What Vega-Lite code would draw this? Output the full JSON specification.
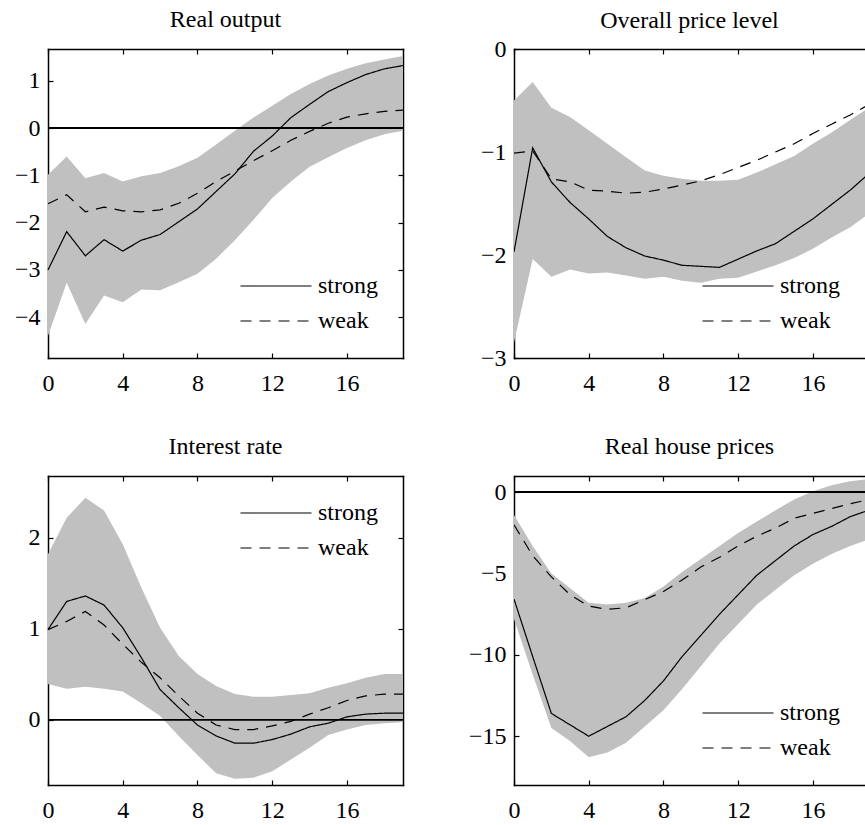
{
  "$schema": "https://vega.github.io/schema/vega-lite/v6.json",
  "background": "white",
  "padding": {"left": 14, "top": 8, "right": 0, "bottom": 5},
  "columns": 2,
  "spacing": {"row": 118, "column": 111},
  "bounds": "flush",
  "datasets": {
    "out": [
      {"t": 0, "strong": -3.00, "weak": -1.60, "lo": -4.39, "hi": -0.99},
      {"t": 1, "strong": -2.19, "weak": -1.41, "lo": -3.27, "hi": -0.60},
      {"t": 2, "strong": -2.70, "weak": -1.77, "lo": -4.14, "hi": -1.06},
      {"t": 3, "strong": -2.36, "weak": -1.67, "lo": -3.54, "hi": -0.95},
      {"t": 4, "strong": -2.60, "weak": -1.75, "lo": -3.68, "hi": -1.13},
      {"t": 5, "strong": -2.37, "weak": -1.77, "lo": -3.41, "hi": -1.02},
      {"t": 6, "strong": -2.25, "weak": -1.73, "lo": -3.43, "hi": -0.95},
      {"t": 7, "strong": -1.98, "weak": -1.59, "lo": -3.26, "hi": -0.81},
      {"t": 8, "strong": -1.71, "weak": -1.38, "lo": -3.08, "hi": -0.63},
      {"t": 9, "strong": -1.34, "weak": -1.13, "lo": -2.76, "hi": -0.35},
      {"t": 10, "strong": -0.97, "weak": -0.91, "lo": -2.37, "hi": -0.06},
      {"t": 11, "strong": -0.49, "weak": -0.69, "lo": -1.94, "hi": 0.22},
      {"t": 12, "strong": -0.17, "weak": -0.48, "lo": -1.48, "hi": 0.47},
      {"t": 13, "strong": 0.22, "weak": -0.26, "lo": -1.13, "hi": 0.72},
      {"t": 14, "strong": 0.50, "weak": -0.07, "lo": -0.82, "hi": 0.93},
      {"t": 15, "strong": 0.77, "weak": 0.10, "lo": -0.62, "hi": 1.11},
      {"t": 16, "strong": 0.96, "weak": 0.23, "lo": -0.42, "hi": 1.25},
      {"t": 17, "strong": 1.13, "weak": 0.30, "lo": -0.26, "hi": 1.37},
      {"t": 18, "strong": 1.25, "weak": 0.35, "lo": -0.13, "hi": 1.45},
      {"t": 19, "strong": 1.32, "weak": 0.38, "lo": -0.06, "hi": 1.52}
    ],
    "price": [
      {"t": 0, "strong": -1.97, "weak": -1.01, "lo": -2.85, "hi": -0.50},
      {"t": 1, "strong": -0.96, "weak": -0.99, "lo": -2.04, "hi": -0.32},
      {"t": 2, "strong": -1.29, "weak": -1.26, "lo": -2.21, "hi": -0.57},
      {"t": 3, "strong": -1.49, "weak": -1.29, "lo": -2.14, "hi": -0.66},
      {"t": 4, "strong": -1.65, "weak": -1.37, "lo": -2.18, "hi": -0.79},
      {"t": 5, "strong": -1.82, "weak": -1.38, "lo": -2.17, "hi": -0.92},
      {"t": 6, "strong": -1.93, "weak": -1.40, "lo": -2.20, "hi": -1.05},
      {"t": 7, "strong": -2.01, "weak": -1.39, "lo": -2.23, "hi": -1.18},
      {"t": 8, "strong": -2.05, "weak": -1.36, "lo": -2.21, "hi": -1.23},
      {"t": 9, "strong": -2.10, "weak": -1.32, "lo": -2.25, "hi": -1.26},
      {"t": 10, "strong": -2.11, "weak": -1.28, "lo": -2.27, "hi": -1.28},
      {"t": 11, "strong": -2.12, "weak": -1.22, "lo": -2.23, "hi": -1.28},
      {"t": 12, "strong": -2.04, "weak": -1.15, "lo": -2.22, "hi": -1.27},
      {"t": 13, "strong": -1.96, "weak": -1.08, "lo": -2.16, "hi": -1.20},
      {"t": 14, "strong": -1.89, "weak": -1.00, "lo": -2.10, "hi": -1.12},
      {"t": 15, "strong": -1.77, "weak": -0.92, "lo": -2.03, "hi": -1.04},
      {"t": 16, "strong": -1.65, "weak": -0.82, "lo": -1.94, "hi": -0.92},
      {"t": 17, "strong": -1.51, "weak": -0.73, "lo": -1.83, "hi": -0.81},
      {"t": 18, "strong": -1.37, "weak": -0.64, "lo": -1.73, "hi": -0.69},
      {"t": 19, "strong": -1.21, "weak": -0.54, "lo": -1.60, "hi": -0.57}
    ],
    "rate": [
      {"t": 0, "strong": 0.99, "weak": 0.99, "lo": 0.39, "hi": 1.82},
      {"t": 1, "strong": 1.30, "weak": 1.08, "lo": 0.34, "hi": 2.22},
      {"t": 2, "strong": 1.36, "weak": 1.19, "lo": 0.36, "hi": 2.44},
      {"t": 3, "strong": 1.26, "weak": 1.04, "lo": 0.34, "hi": 2.30},
      {"t": 4, "strong": 1.01, "weak": 0.83, "lo": 0.31, "hi": 1.93},
      {"t": 5, "strong": 0.68, "weak": 0.63, "lo": 0.18, "hi": 1.45},
      {"t": 6, "strong": 0.33, "weak": 0.46, "lo": 0.04, "hi": 1.01},
      {"t": 7, "strong": 0.13, "weak": 0.26, "lo": -0.18, "hi": 0.70},
      {"t": 8, "strong": -0.06, "weak": 0.07, "lo": -0.39, "hi": 0.50},
      {"t": 9, "strong": -0.18, "weak": -0.06, "lo": -0.59, "hi": 0.37},
      {"t": 10, "strong": -0.26, "weak": -0.11, "lo": -0.65, "hi": 0.28},
      {"t": 11, "strong": -0.26, "weak": -0.11, "lo": -0.64, "hi": 0.25},
      {"t": 12, "strong": -0.22, "weak": -0.07, "lo": -0.57, "hi": 0.25},
      {"t": 13, "strong": -0.16, "weak": -0.02, "lo": -0.44, "hi": 0.27},
      {"t": 14, "strong": -0.08, "weak": 0.06, "lo": -0.31, "hi": 0.29},
      {"t": 15, "strong": -0.04, "weak": 0.13, "lo": -0.17, "hi": 0.35},
      {"t": 16, "strong": 0.03, "weak": 0.21, "lo": -0.11, "hi": 0.40},
      {"t": 17, "strong": 0.06, "weak": 0.26, "lo": -0.06, "hi": 0.46},
      {"t": 18, "strong": 0.07, "weak": 0.28, "lo": -0.04, "hi": 0.50},
      {"t": 19, "strong": 0.07, "weak": 0.28, "lo": -0.03, "hi": 0.50}
    ],
    "house": [
      {"t": 0, "strong": -6.57, "weak": -2.0, "lo": -7.8, "hi": -1.4},
      {"t": 1, "strong": -10.1, "weak": -3.9, "lo": -11.2, "hi": -3.3},
      {"t": 2, "strong": -13.6, "weak": -5.2, "lo": -14.5, "hi": -5.0},
      {"t": 3, "strong": -14.3, "weak": -6.3, "lo": -15.3, "hi": -5.9},
      {"t": 4, "strong": -15.0, "weak": -7.0, "lo": -16.3, "hi": -6.8},
      {"t": 5, "strong": -14.4, "weak": -7.2, "lo": -16.0, "hi": -6.9},
      {"t": 6, "strong": -13.8, "weak": -7.1, "lo": -15.4, "hi": -6.8},
      {"t": 7, "strong": -12.8, "weak": -6.6, "lo": -14.4, "hi": -6.5},
      {"t": 8, "strong": -11.6, "weak": -6.1, "lo": -13.4, "hi": -5.8},
      {"t": 9, "strong": -10.1, "weak": -5.4, "lo": -12.1, "hi": -4.9},
      {"t": 10, "strong": -8.8, "weak": -4.6, "lo": -10.7, "hi": -4.1},
      {"t": 11, "strong": -7.5, "weak": -4.0, "lo": -9.3, "hi": -3.3},
      {"t": 12, "strong": -6.3, "weak": -3.3, "lo": -8.1, "hi": -2.5},
      {"t": 13, "strong": -5.1, "weak": -2.7, "lo": -6.9, "hi": -1.8},
      {"t": 14, "strong": -4.2, "weak": -2.2, "lo": -6.0, "hi": -1.1},
      {"t": 15, "strong": -3.3, "weak": -1.6, "lo": -5.1, "hi": -0.45},
      {"t": 16, "strong": -2.6, "weak": -1.3, "lo": -4.4, "hi": 0.06},
      {"t": 17, "strong": -2.1, "weak": -1.0, "lo": -3.8, "hi": 0.43},
      {"t": 18, "strong": -1.5, "weak": -0.7, "lo": -3.3, "hi": 0.67},
      {"t": 19, "strong": -1.1, "weak": -0.45, "lo": -2.9, "hi": 0.82}
    ]
  },
  "concat": [
    {
      "title": "Real output",
      "width": 355, "height": 309,
      "data": {"name": "out"},
      "resolve": {"axis": {"x": "independent", "y": "independent"}},
      "layer": [
        {"mark": {"type": "area", "color": "#c0c0c0"},
         "encoding": {
           "x": {"field": "t", "type": "quantitative", "scale": {"domain": [0, 19], "nice": false, "zero": false}, "axis": {"orient": "bottom", "values": [0, 4, 8, 12, 16], "title": null}},
           "y": {"field": "lo", "type": "quantitative", "scale": {"domain": [-4.86, 1.67], "nice": false, "zero": false}, "axis": {"orient": "left", "values": [-4, -3, -2, -1, 0, 1], "title": null}},
           "y2": {"field": "hi"}}},
        {"mark": {"type": "rule", "color": "black", "strokeWidth": 1},
         "encoding": {"y": {"datum": 0, "type": "quantitative", "axis": null}}},
        {"transform": [{"fold": ["strong", "weak"], "as": ["series", "value"]}],
         "mark": {"type": "line", "color": "black", "strokeWidth": 1.2},
         "encoding": {
           "x": {"field": "t", "type": "quantitative", "axis": null},
           "y": {"field": "value", "type": "quantitative", "axis": null},
           "strokeDash": {"field": "series", "type": "nominal", "scale": {"domain": ["strong", "weak"], "range": [[1, 0], [11, 8]]}, "legend": {"orient": "bottom-right"}}}},
        {"mark": {"type": "point", "opacity": 0},
         "encoding": {
           "x": {"field": "t", "type": "quantitative", "axis": {"orient": "top", "values": [0, 4, 8, 12, 16], "labels": false, "title": null}},
           "y": {"field": "hi", "type": "quantitative", "axis": {"orient": "right", "values": [-4, -3, -2, -1, 0, 1], "labels": false, "title": null}}}}
      ]
    },
    {
      "title": {"text": "Overall price level", "offset": 4},
      "width": 351, "height": 309,
      "data": {"name": "price"},
      "resolve": {"axis": {"x": "independent", "y": "independent"}},
      "layer": [
        {"mark": {"type": "area", "color": "#c0c0c0", "clip": true},
         "encoding": {
           "x": {"field": "t", "type": "quantitative", "scale": {"domain": [0, 18.79], "nice": false, "zero": false}, "axis": {"orient": "bottom", "values": [0, 4, 8, 12, 16], "title": null}},
           "y": {"field": "lo", "type": "quantitative", "scale": {"domain": [-3, 0], "nice": false, "zero": false}, "axis": {"orient": "left", "values": [-3, -2, -1, 0], "title": null}},
           "y2": {"field": "hi"}}},
        {"transform": [{"fold": ["strong", "weak"], "as": ["series", "value"]}],
         "mark": {"type": "line", "color": "black", "strokeWidth": 1.2, "clip": true},
         "encoding": {
           "x": {"field": "t", "type": "quantitative", "axis": null},
           "y": {"field": "value", "type": "quantitative", "axis": null},
           "strokeDash": {"field": "series", "type": "nominal", "scale": {"domain": ["strong", "weak"], "range": [[1, 0], [11, 8]]}, "legend": {"orient": "bottom-right"}}}},
        {"mark": {"type": "point", "opacity": 0, "clip": true},
         "encoding": {
           "x": {"field": "t", "type": "quantitative", "axis": {"orient": "top", "values": [0, 4, 8, 12, 16], "labels": false, "title": null}},
           "y": {"field": "hi", "type": "quantitative", "axis": null}}}
      ]
    },
    {
      "title": "Interest rate",
      "width": 355, "height": 309,
      "data": {"name": "rate"},
      "resolve": {"axis": {"x": "independent", "y": "independent"}},
      "layer": [
        {"mark": {"type": "area", "color": "#c0c0c0"},
         "encoding": {
           "x": {"field": "t", "type": "quantitative", "scale": {"domain": [0, 19], "nice": false, "zero": false}, "axis": {"orient": "bottom", "values": [0, 4, 8, 12, 16], "title": null}},
           "y": {"field": "lo", "type": "quantitative", "scale": {"domain": [-0.72, 2.68], "nice": false, "zero": false}, "axis": {"orient": "left", "values": [0, 1, 2], "title": null}},
           "y2": {"field": "hi"}}},
        {"mark": {"type": "rule", "color": "black", "strokeWidth": 1},
         "encoding": {"y": {"datum": 0, "type": "quantitative", "axis": null}}},
        {"transform": [{"fold": ["strong", "weak"], "as": ["series", "value"]}],
         "mark": {"type": "line", "color": "black", "strokeWidth": 1.2},
         "encoding": {
           "x": {"field": "t", "type": "quantitative", "axis": null},
           "y": {"field": "value", "type": "quantitative", "axis": null},
           "strokeDash": {"field": "series", "type": "nominal", "scale": {"domain": ["strong", "weak"], "range": [[1, 0], [11, 8]]}, "legend": {"orient": "top-right"}}}},
        {"mark": {"type": "point", "opacity": 0},
         "encoding": {
           "x": {"field": "t", "type": "quantitative", "axis": {"orient": "top", "values": [0, 4, 8, 12, 16], "labels": false, "title": null}},
           "y": {"field": "hi", "type": "quantitative", "axis": {"orient": "right", "values": [0, 1, 2], "labels": false, "title": null}}}}
      ]
    },
    {
      "title": "Real house prices",
      "width": 351, "height": 309,
      "data": {"name": "house"},
      "resolve": {"axis": {"x": "independent", "y": "independent"}},
      "layer": [
        {"mark": {"type": "area", "color": "#c0c0c0", "clip": true},
         "encoding": {
           "x": {"field": "t", "type": "quantitative", "scale": {"domain": [0, 18.79], "nice": false, "zero": false}, "axis": {"orient": "bottom", "values": [0, 4, 8, 12, 16], "title": null}},
           "y": {"field": "lo", "type": "quantitative", "scale": {"domain": [-18, 1], "nice": false, "zero": false}, "axis": {"orient": "left", "values": [-15, -10, -5, 0], "title": null}},
           "y2": {"field": "hi"}}},
        {"mark": {"type": "rule", "color": "black", "strokeWidth": 1},
         "encoding": {"y": {"datum": 0, "type": "quantitative", "axis": null}}},
        {"transform": [{"fold": ["strong", "weak"], "as": ["series", "value"]}],
         "mark": {"type": "line", "color": "black", "strokeWidth": 1.2, "clip": true},
         "encoding": {
           "x": {"field": "t", "type": "quantitative", "axis": null},
           "y": {"field": "value", "type": "quantitative", "axis": null},
           "strokeDash": {"field": "series", "type": "nominal", "scale": {"domain": ["strong", "weak"], "range": [[1, 0], [11, 8]]}, "legend": {"orient": "bottom-right"}}}},
        {"mark": {"type": "point", "opacity": 0, "clip": true},
         "encoding": {
           "x": {"field": "t", "type": "quantitative", "axis": {"orient": "top", "values": [0, 4, 8, 12, 16], "labels": false, "title": null}},
           "y": {"field": "hi", "type": "quantitative", "axis": null}}}
      ]
    }
  ],
  "resolve": {
    "scale": {"strokeDash": "independent", "x": "independent", "y": "independent"},
    "legend": {"strokeDash": "independent"}
  },
  "config": {
    "view": {"stroke": null},
    "font": "Liberation Serif, Times New Roman, serif",
    "axis": {
      "labelFont": "Liberation Serif, Times New Roman, serif",
      "labelFontSize": 24,
      "labelFontWeight": "normal",
      "labelColor": "black",
      "tickColor": "black",
      "tickSize": -5,
      "tickWidth": 1.2,
      "domainColor": "black",
      "domainWidth": 1.5,
      "domainCap": "square",
      "grid": false,
      "labelFlush": false,
      "labelOverlap": false
    },
    "axisLeft": {"labelPadding": 13},
    "axisBottom": {"labelPadding": 18},
    "axisTop": {"labels": false},
    "axisRight": {"labels": false},
    "title": {"font": "Liberation Serif, Times New Roman, serif", "fontSize": 24, "fontWeight": "normal", "color": "black", "baseline": "alphabetic", "offset": 16},
    "legend": {
      "title": null,
      "offset": 25,
      "padding": 0,
      "symbolType": "M-35.5,0H35.5",
      "symbolSize": 4,
      "symbolStrokeWidth": 1.2,
      "symbolStrokeColor": "black",
      "labelFont": "Liberation Serif, Times New Roman, serif",
      "labelFontSize": 24,
      "labelFontWeight": "normal",
      "labelColor": "black",
      "labelOffset": 30,
      "rowPadding": 11
    }
  }
}
